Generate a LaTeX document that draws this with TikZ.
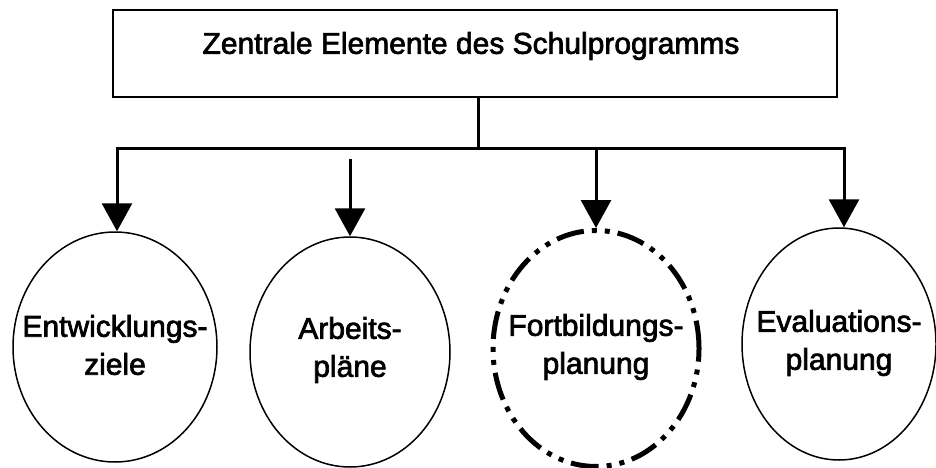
\documentclass[tikz,border=0pt]{standalone}
\usepackage{fontspec}
\setmainfont{Liberation Sans}
\newfontfamily\labfont{Liberation Sans}
\newcommand\heavytext[1]{\special{pdf:literal 2 Tr 0.7 w}#1\special{pdf:literal 0 Tr}}
\usetikzlibrary{arrows.meta,shapes.geometric}
\begin{document}
\begin{tikzpicture}[x=1pt,y=-1pt,
  txt/.style={font=\labfont\fontsize{30pt}{38pt}\selectfont, align=center, inner sep=0pt},
  topbox/.style={draw, line width=2pt, minimum width=724pt, minimum height=87pt, inner sep=0pt},
  oval/.style={draw, ellipse, line width=1.5pt, inner sep=0pt},
  dashoval/.style={draw, ellipse, line width=5pt, inner sep=0pt,
    dash pattern=on 28pt off 8pt on 5pt off 8pt on 5pt off 8pt},
  conn/.style={line width=3pt},
  arr/.style={line width=3pt, -{Triangle[length=28pt,width=30pt]}}
]
\useasboundingbox (0,0) rectangle (936,468);
\node[topbox] (top) at (475,53.5) {};
\node[txt] (title) at (471,46) {\heavytext{Zentrale Elemente des Schulprogramms}};

\node[oval, minimum width=204pt, minimum height=230pt] (e1) at (115,347) {};
\node[oval, minimum width=200pt, minimum height=230pt] (e2) at (350,352) {};
\node[dashoval, minimum width=206pt, minimum height=236pt] (e3) at (596,348.5) {};
\node[oval, minimum width=194pt, minimum height=232pt] (e4) at (839,344) {};

\node[txt] (t1) at (115,345) {\heavytext{Entwicklungs-}\\\heavytext{ziele}};
\node[txt] (t2) at (350,350) {\heavytext{Arbeits-}\\\heavytext{pläne}};
\node[txt] (t3) at (596,347) {\heavytext{Fortbildungs-}\\\heavytext{planung}};
\node[txt] (t4) at (839,343) {\heavytext{Evaluations-}\\\heavytext{planung}};

\coordinate (j0) at (478,148);
\coordinate (j1) at (117,148);
\coordinate (j2) at (350,159);
\coordinate (j3) at (596,148);
\coordinate (j4) at (844,148);

\draw[conn] (j0 |- top.south) -- (j0);
\draw[conn, line cap=rect] (j1) -- (j4);
\draw[arr] (j1) -- (j1 |- e1.north);
\draw[arr] (j2) -- (j2 |- e2.north);
\draw[arr] (j3) -- (j3 |- e3.north);
\draw[arr] (j4) -- (j4 |- e4.north);
\end{tikzpicture}
\end{document}
